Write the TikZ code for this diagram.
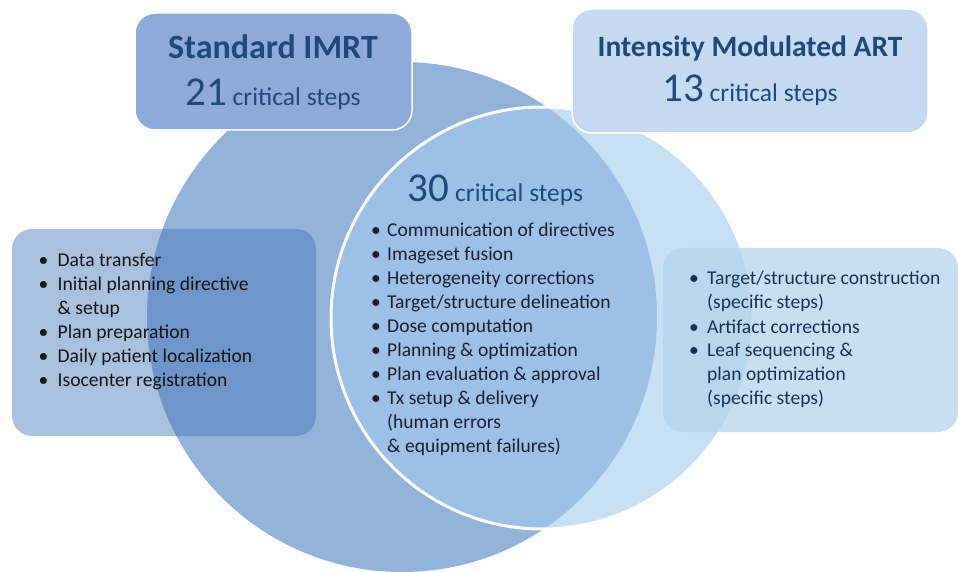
\documentclass[tikz,border=0pt]{standalone}
\usepackage{fontspec}
\setmainfont{Carlito}
\usetikzlibrary{positioning}

\definecolor{imrtcirc}{HTML}{93B3DA}
\definecolor{artcirc}{RGB}{200,224,243}
\definecolor{bothcirc}{HTML}{9DC0E6}
\definecolor{imrtfill}{HTML}{8EAADA}
\definecolor{artfill}{HTML}{C5DAF0}
\definecolor{leftfill}{RGB}{65,116,184}
\definecolor{rightfill}{RGB}{179,211,237}
\definecolor{headblue}{HTML}{1F497D}
\definecolor{lefttext}{RGB}{20,20,22}
\definecolor{coretext}{RGB}{26,32,48}
\definecolor{righttext}{RGB}{30,46,82}

\newlength{\bulletw}
\newcommand{\itm}{\makebox[\bulletw][l]{\textbullet}}
\newcommand{\cont}{\hspace*{\bulletw}}

\tikzset{
  headbox/.style={rectangle, rounded corners=20pt, draw=white, line width=1.5pt},
  listbox/.style={rectangle, rounded corners=20pt, draw=none},
  heading/.style={anchor=base, text=headblue, font=\bfseries},
  count/.style={anchor=base, text=headblue},
  steplist/.style={anchor=base west, font=\fontsize{19.6}{24}\selectfont}
}

\newcommand{\steps}[1]{\fontsize{41}{48}\selectfont #1\fontsize{25.5}{30}\selectfont\ critical steps}

\begin{document}
\begin{tikzpicture}[x=1pt, y=-1pt]
\tikzstyle{every node}+=[inner sep=0pt]
\useasboundingbox (0,0) rectangle (959,572);
\fill [white] (0,0) rectangle (959,572);

\coordinate (lc) at (402,317);
\coordinate (rc) at (542,318);

% the two overlapping circles
\fill [imrtcirc] (lc) circle [radius=255pt];
\fill [artcirc] (rc) circle [radius=211pt];
\begin{scope}
\clip (lc) circle [radius=255pt];
\fill [bothcirc] (rc) circle [radius=211pt];
\end{scope}
\draw [white, line width=3pt] (rc) circle [radius=211pt];

% boxes
\node [listbox, fill=leftfill, fill opacity=0.45, minimum width=304pt, minimum height=207pt] (leftbox) at (164,332.5) {};
\node [listbox, fill=rightfill, fill opacity=0.72, minimum width=295pt, minimum height=184pt] (rightbox) at (810.5,340) {};
\node [headbox, fill=imrtfill, minimum width=277pt, minimum height=117pt] (imrt) at (273.5,71.5) {};
\node [headbox, fill=artfill, minimum width=356pt, minimum height=124pt] (art) at (750,71) {};

% headings
\node [heading, font=\bfseries\fontsize{34}{40}\selectfont] (imrt-title) at (273,59) {Standard IMRT};
\node [count] (imrt-count) at (273,106) {\steps{21}};
\node [heading, font=\bfseries\fontsize{29.5}{34}\selectfont] (art-title) at (750,57) {Intensity Modulated ART};
\node [count] (art-count) at (750,102) {\steps{13}};
\node [count] (core-count) at (495.5,202) {\steps{30}};

% step lists
\node [steplist, text=lefttext] (imrt-list) at (38.5,267) {\setlength{\bulletw}{19pt}%
\begin{tabular}[t]{@{}l@{}}
\itm Data transfer\\
\itm Initial planning directive\\
\cont\& setup\\
\itm Plan preparation\\
\itm Daily patient localization\\
\itm Isocenter registration
\end{tabular}};

\node [steplist, text=coretext] (core-list) at (371,237) {\setlength{\bulletw}{16pt}%
\begin{tabular}[t]{@{}l@{}}
\itm Communication of directives\\
\itm Imageset fusion\\
\itm Heterogeneity corrections\\
\itm Target/structure delineation\\
\itm Dose computation\\
\itm Planning \& optimization\\
\itm Plan evaluation \& approval\\
\itm Tx setup \& delivery\\
\cont(human errors\\
\cont\& equipment failures)
\end{tabular}};

\node [steplist, text=righttext] (art-list) at (689,285) {\setlength{\bulletw}{18pt}%
\begin{tabular}[t]{@{}l@{}}
\itm Target/structure construction\\
\cont(specific steps)\\
\itm Artifact corrections\\
\itm Leaf sequencing \&\\
\cont plan optimization\\
\cont(specific steps)
\end{tabular}};
\end{tikzpicture}
\end{document}
